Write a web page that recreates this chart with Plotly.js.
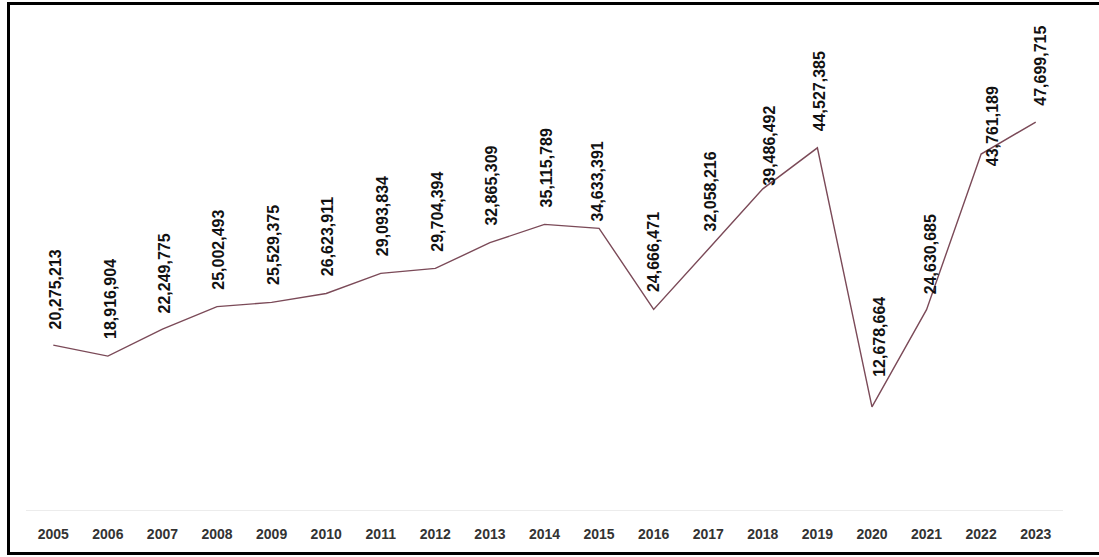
<!DOCTYPE html>
<html>
<head>
<meta charset="utf-8">
<script src="https://cdn.plot.ly/plotly-3.0.1.min.js"></script>
<style>
  html, body { margin: 0; padding: 0; background: #ffffff; }
  #chart { width: 1099px; height: 557px; }
  #frame {
    position: absolute; left: 7px; top: 2px; width: 1200px; height: 553px;
    box-sizing: border-box; border-top: 3px solid #000; border-left: 3px solid #000;
    border-bottom: 3px solid #000; pointer-events: none;
  }
</style>
</head>
<body>
<div id="chart"></div>
<div id="frame"></div>
<script>
// Data
const years = ["2005","2006","2007","2008","2009","2010","2011","2012","2013","2014",
               "2015","2016","2017","2018","2019","2020","2021","2022","2023"];
const values = [20275213, 18916904, 22249775, 25002493, 25529375, 26623911, 29093834,
                29704394, 32865309, 35115789, 34633391, 24666471, 32058216, 39486492,
                44527385, 12678664, 24630685, 43761189, 47699715];

// Label placement tweaks (pixels), separate from data
const labelDy = [14,15,14,15,15,15,15,15,15,15, 5,15,16, 1,15,28,13,-14,14];
const labelDx = [ 2, 2, 2, 2, 2, 2, 2, 2, 2, 2,-2, 0, 2, 7, 2, 8, 4, 11, 4];

const trace = {
  type: "scatter",
  mode: "lines",
  x: years,
  y: values,
  line: { color: "#7b4a58", width: 1.4 },
  hoverinfo: "x+y"
};

const annotations = years.map((yr, i) => ({
  x: i, y: values[i], xref: "x", yref: "y",
  text: values[i].toLocaleString("en-US"),
  showarrow: false, textangle: -90,
  xanchor: "center", yanchor: "bottom",
  xshift: labelDx[i], yshift: labelDy[i],
  font: { family: "Liberation Sans, Arial, sans-serif", size: 16, color: "#111111", weight: "bold" }
}));

const layout = {
  width: 1099, height: 557,
  margin: { l: 26, r: 36, t: 22, b: 47 },
  paper_bgcolor: "#ffffff", plot_bgcolor: "#ffffff",
  showlegend: false,
  xaxis: {
    type: "category",
    range: [-0.5, 18.5],
    showgrid: false, zeroline: false,
    showline: true, linecolor: "#ececec", linewidth: 1,
    ticks: "", ticklabelstandoff: 11,
    tickfont: { family: "Liberation Sans, Arial, sans-serif", size: 14, color: "#333333", weight: "bold" }
  },
  yaxis: {
    range: [0, 60000000],
    visible: false, showgrid: false, zeroline: false
  },
  annotations: annotations
};

Plotly.newPlot("chart", [trace], layout, { displayModeBar: false, staticPlot: true });
</script>
</body>
</html>
